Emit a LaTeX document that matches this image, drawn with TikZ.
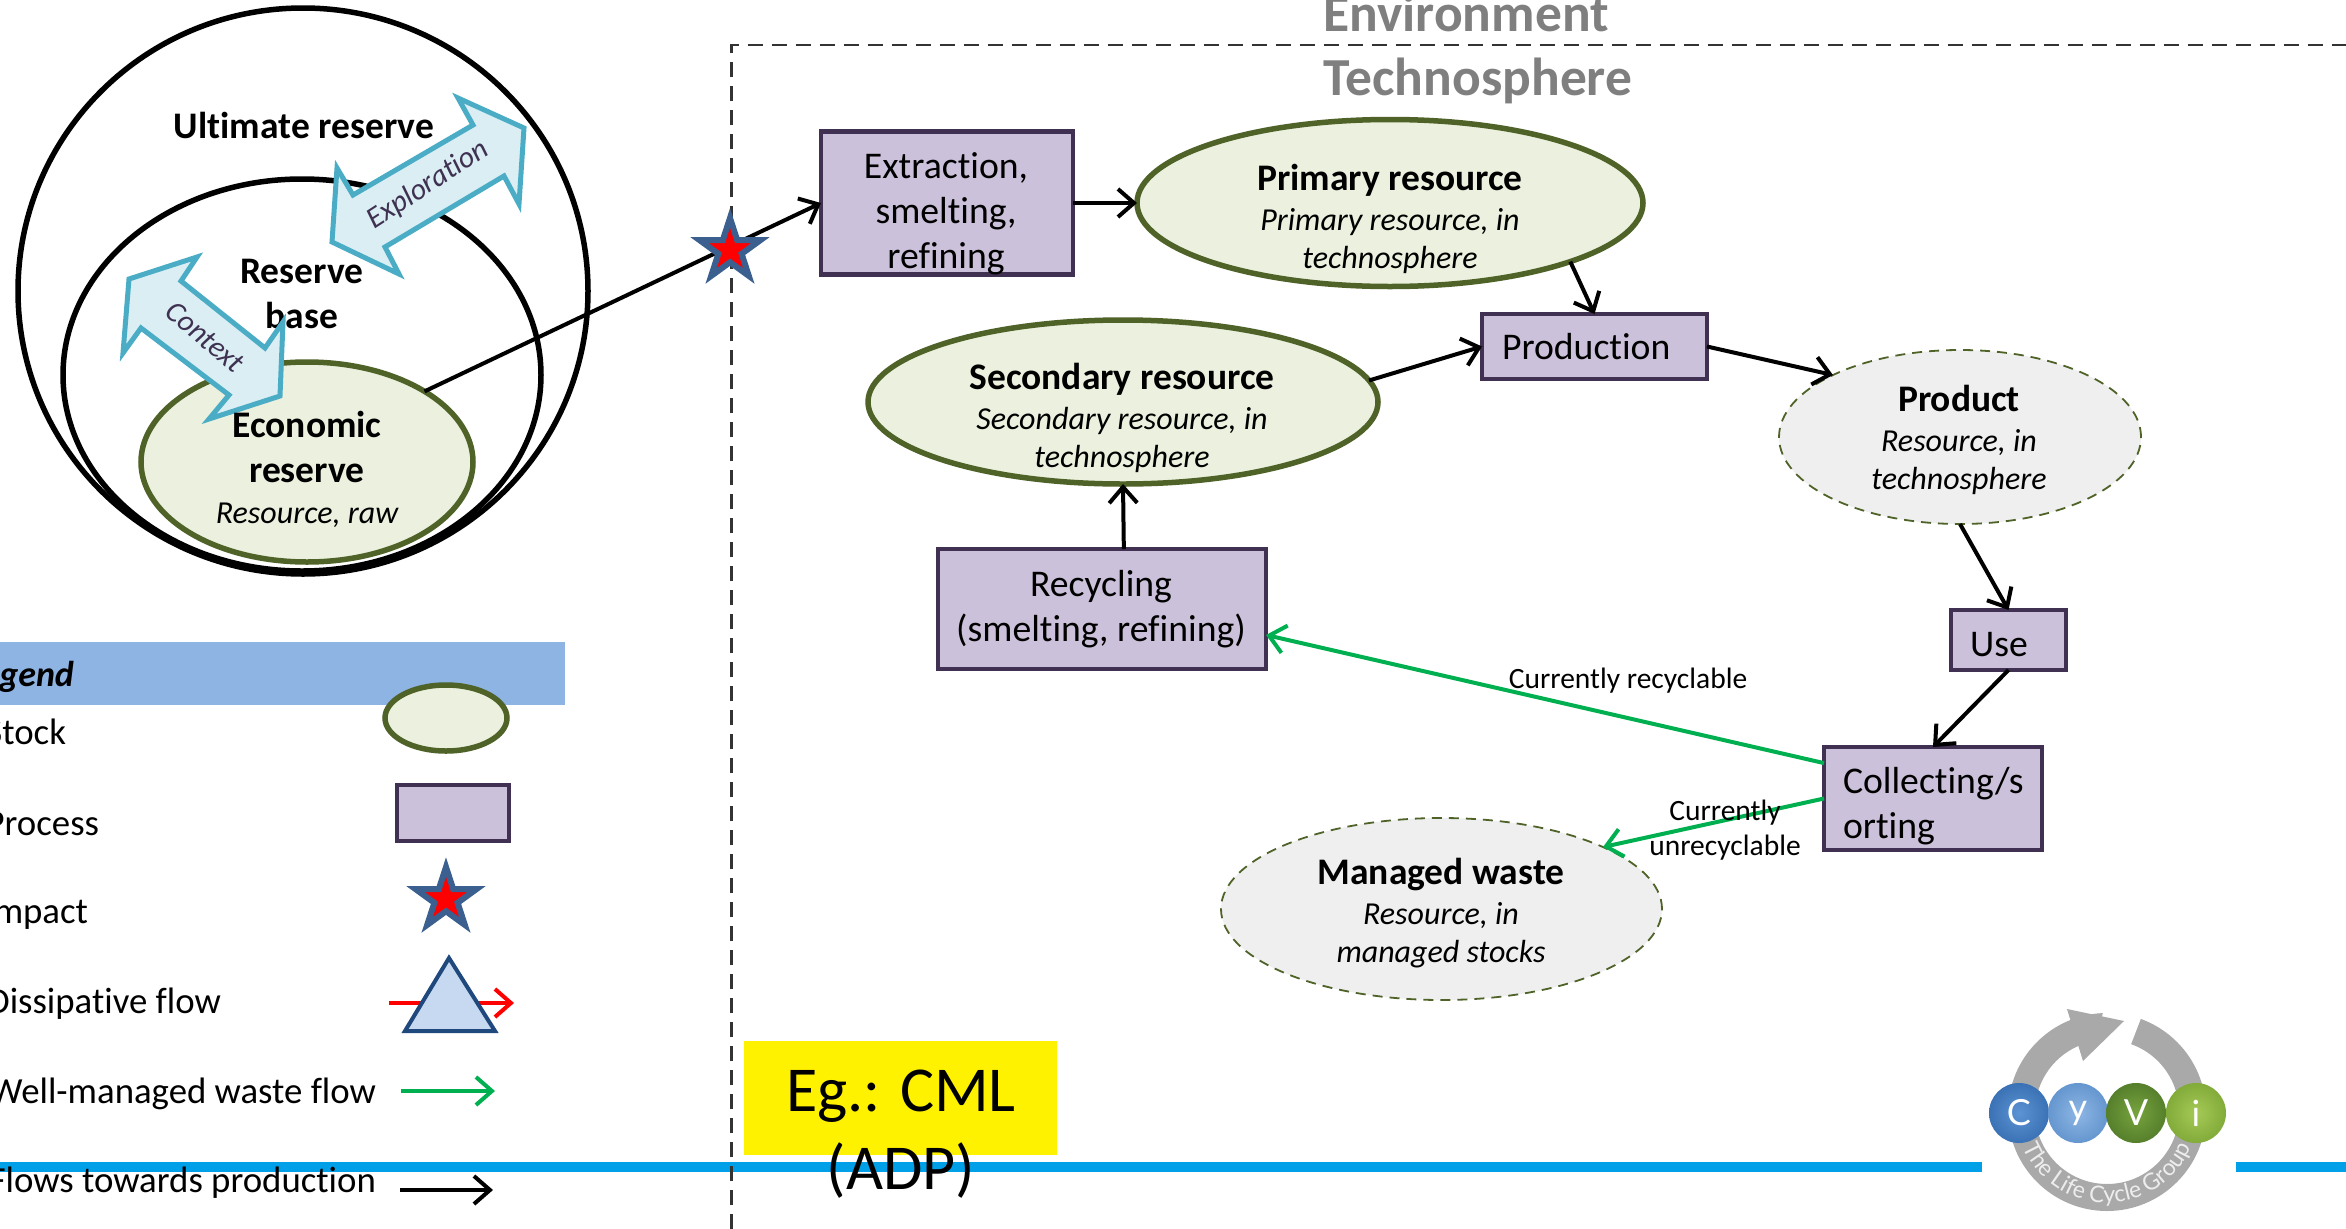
\documentclass[tikz,border=0pt]{standalone}
\usepackage{fontspec}
\setmainfont{Carlito}[Ligatures=NoCommon]
\newfontfamily\logofont{Lato}[Ligatures=NoCommon]
\usetikzlibrary{arrows.meta,shapes.geometric,decorations.text}
\definecolor{stockfill}{HTML}{EBF1DE}
\definecolor{stockline}{HTML}{4F6228}
\definecolor{procfill}{HTML}{CCC1DA}
\definecolor{procline}{HTML}{403152}
\definecolor{wastefill}{HTML}{EFEFEF}
\definecolor{arrfill}{HTML}{DAEEF3}
\definecolor{arrline}{HTML}{4BACC6}
\definecolor{arrtext}{HTML}{3F3151}
\definecolor{starline}{HTML}{3B5F8F}
\definecolor{greenflow}{HTML}{00B050}
\definecolor{rule}{HTML}{00A0E9}
\definecolor{legbar}{HTML}{8EB4E3}
\definecolor{trifill}{HTML}{C6D9F1}
\definecolor{triline}{HTML}{1F497D}
\definecolor{ring}{HTML}{A9A9A9}
\definecolor{titlegray}{HTML}{7F7F7F}
\definecolor{ringtext}{HTML}{EDEDED}
\definecolor{cin}{HTML}{5B93D3}
\definecolor{cout}{HTML}{3A72B5}
\definecolor{yin}{HTML}{8DB6E4}
\definecolor{yout}{HTML}{6596CF}
\definecolor{vin}{HTML}{77A33D}
\definecolor{vout}{HTML}{567F2C}
\definecolor{iin}{HTML}{A5C956}
\definecolor{iout}{HTML}{82AB3A}
\tikzset{
  every node/.style={outer sep=0pt,inner sep=0pt},
  reserve/.style={ellipse,draw=black,line width=5.5pt},
  stock/.style={ellipse,draw=stockline,fill=stockfill,line width=5.5pt},
  waste/.style={ellipse,draw=stockline,fill=wastefill,line width=1.8pt,dash pattern=on 10pt off 7pt},
  proc/.style={rectangle,draw=procline,fill=procfill,line width=4.5pt},
  impact/.style={star,star points=5,star point ratio=2.618,minimum size=64pt,draw=starline,fill=red,line width=6pt,miter limit=10},
  body/.style={align=center,font=\fontsize{37.7}{45}\selectfont},
  bold/.style={align=center,font=\bfseries\fontsize{37.5}{45}\selectfont},
  stocktxt/.style={align=center,font=\itshape\fontsize{32}{38}\selectfont},
  leg/.style={anchor=east,font=\fontsize{36.8}{40}\selectfont},
  flowlabel/.style={align=center,font=\fontsize{29.5}{35.5}\selectfont},
  flow/.style={line width=4pt,-{Straight Barb[length=16pt,width=28pt]}},
  greenf/.style={flow,draw=greenflow},
  bigarrow/.style={draw=arrline,fill=arrfill,line width=5pt,line join=miter},
  arrowtxt/.style={font=\itshape\fontsize{30}{36}\selectfont,text=arrtext},
  title/.style={font=\bfseries\fontsize{53.5}{60}\selectfont,text=titlegray},
  ball/.style={circle,minimum size=60pt,text=white,font=\logofont\fontsize{36}{40}\selectfont},
}
\newcommand{\bfl}[1]{{\bfseries\upshape\fontsize{37.5}{38}\selectfont #1}}
\begin{document}
\begin{tikzpicture}[x=1pt,y=-1pt]
\useasboundingbox (0,0) rectangle (2346,1229);

% rule and yellow box
\fill[rule] (0,1162) rectangle (1982,1172);
\fill[rule] (2236,1162) rectangle (2346,1172);
\node[rectangle,fill=yellow,minimum width=313pt,minimum height=114pt] (egbox) at (900.5,1098) {};

% boundaries
\coordinate (bTop) at (731.5,45);
\coordinate (bBottom) at (731.5,1229);
\coordinate (bRight) at (2346,45);
\draw[line width=2.4pt,black!80,dash pattern=on 15pt off 9pt] (bBottom) -- (bTop) -- (bRight);
\node[title] (envt) at (1466,13) {Environment};
\node[title] (techt) at (1478,81) {Technosphere};

% reserves
\node[reserve,minimum width=570pt,minimum height=566pt] (ultimate) at (303,291) {};
\node[reserve,minimum width=478pt,minimum height=392pt] (base) at (302,375) {};
\node[stock,minimum width=332pt,minimum height=200pt] (eco) at (307,462) {};
\node[bold] (ultt) at (304,125) {Ultimate reserve};
\node[bold] (baset) at (302,294) {Reserve\\base};
\draw[bigarrow] (458,98) -- (524,128) -- (519,204) -- (504,176) -- (385,247) -- (399,274) -- (332,242) -- (337,168) -- (353,195) -- (473,125) -- cycle;
\draw[bigarrow] (197,257) -- (181,281) -- (265,348) -- (283,322) -- (280,396) -- (209,419) -- (229,395) -- (141,328) -- (123,353) -- (129,279) -- cycle;
\node[arrowtxt,rotate=33] (expl) at (428,185) {Exploration};
\node[arrowtxt,rotate=-40] (ctx) at (205,337) {Context};
\node[bold] (ecot) at (307,447) {Economic\\reserve};
\node[stocktxt] (ecot2) at (307,515) {Resource, raw};

% process boxes
\node[proc,minimum width=252pt,minimum height=143pt] (ext) at (947,203) {};
\node[body] (extt) at (946,214) {Extraction,\\smelting,\\refining};
\node[proc,minimum width=225pt,minimum height=65pt] (prod) at (1594.5,346.5) {};
\node[body,anchor=west] (prodt) at (1502,347) {Production};
\node[proc,minimum width=328pt,minimum height=120pt] (rec) at (1102,609) {};
\node[body] (rect) at (1101,609) {Recycling\\(smelting, refining)};
\node[proc,minimum width=115pt,minimum height=60pt] (use) at (2008.5,640) {};
\node[body] (uset) at (1999,645) {Use};
\node[proc,minimum width=218pt,minimum height=103pt] (coll) at (1933,798.5) {};
\node[body,anchor=west,align=left] (collt) at (1843,806) {Collecting/s\\orting};

% stocks
\node[stock,minimum width=506pt,minimum height=167pt] (prim) at (1390,203) {};
\node[stocktxt] (primt) at (1390,219) {\bfl{Primary resource}\\[1.5pt]Primary resource, in\\technosphere};
\node[stock,minimum width=510pt,minimum height=164pt] (sec) at (1123,402) {};
\node[stocktxt] (sect) at (1122,418) {\bfl{Secondary resource}\\[1.5pt]Secondary resource, in\\technosphere};
\node[waste,minimum width=362pt,minimum height=174pt] (product) at (1960,437) {};
\node[stocktxt] (productt) at (1959,440) {\bfl{Product}\\[1.5pt]Resource, in\\technosphere};
\node[waste,minimum width=441pt,minimum height=182pt] (managed) at (1441.5,909) {};
\node[stocktxt] (managedt) at (1441,913) {\bfl{Managed waste}\\[1.5pt]Resource, in\\managed stocks};

% connectors
\draw[flow] (eco.31) -- (ext.west);
\node[impact] (imp) at (730,250) {};
\draw[flow] (ext.east) -- (prim.west);
\draw[flow] (prim.-18) -- (prod.north);
\draw[flow] (sec.5.8) -- (prod.west);
\draw[flow] (rec.70.7) -- (sec.south);
\draw[flow] (prod.east) -- (product.154.5);
\draw[flow] (product.south) -- (use.north);
\draw[flow] (use.south) -- (coll.north);
\draw[greenf] (coll.162) -- (rec.-9.3);
\draw[greenf] (coll.west) -- (managed.21.8);
\node[flowlabel] (lrec) at (1628,681) {Currently recyclable};
\node[flowlabel] (lunrec) at (1725,830) {Currently\\unrecyclable};

% legend
\node[rectangle,fill=legbar,minimum width=565pt,minimum height=63pt,anchor=north west] (legbar) at (0,642) {};
\node[leg,font=\bfseries\itshape\fontsize{36}{40}\selectfont] (lt) at (74,677) {Legend};
\node[leg] (l1) at (66,732) {Stock};
\node[leg] (l2) at (99,824) {Process};
\node[leg] (l3) at (88,915) {Impact};
\node[leg] (l4) at (221,1004) {Dissipative flow};
\node[leg] (l5) at (376,1094) {Well-managed waste flow};
\node[leg] (l6) at (376,1183) {Flows towards production};
\node[stock,minimum width=122pt,minimum height=66pt] (lstock) at (446,718) {};
\node[proc,minimum width=112pt,minimum height=56pt] (lproc) at (453,813) {};
\node[impact] (limp) at (446,899) {};
\coordinate (lda) at (389,1003);
\coordinate (ldb) at (514,1003);
\draw[flow,draw=red] (lda) -- (ldb);
\coordinate (ta) at (449,958);
\coordinate (tb) at (405,1031);
\coordinate (tc) at (495,1031);
\draw[draw=triline,fill=trifill,line width=4pt] (ta) -- (tb) -- (tc) -- cycle;
\coordinate (lga) at (401,1091);
\coordinate (lgb) at (495,1091);
\draw[greenf] (lga) -- (lgb);
\coordinate (lka) at (400,1190);
\coordinate (lkb) at (493,1190);
\draw[flow] (lka) -- (lkb);

% Eg label
\node[align=center,font=\fontsize{64}{78}\selectfont] (eg) at (901,1134) {Eg.: CML\\(ADP)};

% logo
\node[circle,draw=ring,line width=27pt,minimum size=171pt] (logoring) at (2107,1112) {};
\fill[white] (2105,1002) -- (2143,1013) -- (2123,1065) -- (2095,1052) -- cycle;
\fill[ring] (2067,1009) -- (2124,1021) -- (2083,1061) -- cycle;
\path[decorate,decoration={text along path,text align=center,text={|\logofont\fontsize{23}{26}\selectfont\color{ringtext}|The Life Cycle Group}}]
  (2024.5,1150.5) .. controls (2057,1220) and (2157,1220) .. (2189.5,1150.5);
\node[ball,shade,inner color=cin,outer color=cout] (lc) at (2019,1113) {C};
\node[ball,shade,inner color=yin,outer color=yout] (ly) at (2078,1113) {y};
\node[ball,shade,inner color=vin,outer color=vout] (lv) at (2136,1113) {V};
\node[ball,shade,inner color=iin,outer color=iout] (li) at (2196,1113) {i};
\end{tikzpicture}
\end{document}
